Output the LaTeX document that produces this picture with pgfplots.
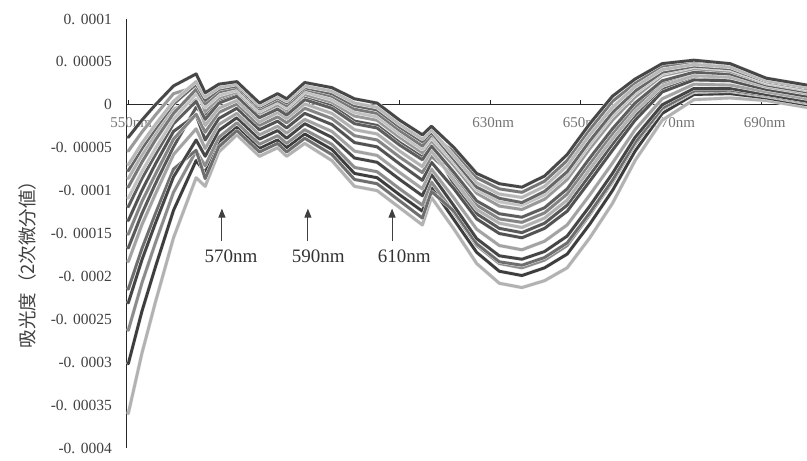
\documentclass[border=0pt]{standalone}
\usepackage{fontspec}
\setmainfont{Liberation Serif}
\newfontfamily\jp{Noto Sans CJK JP}
\usepackage{pgfplots}
\usepackage{pgfplotstable}
\pgfplotsset{compat=1.18}
\usetikzlibrary{arrows.meta}

% second-derivative absorbance, units of 1e-5
\pgfplotstableread{
nm   A     B     C     D     E     F     G     H     I     J     K     L     M     N     O     P     Q
550 -3.8  -7.0  -9.6  -5.4 -11.9  -8.6 -15.1 -13.5 -18.3 -23.1 -26.3 -30.2 -21.5 -36.0  -7.7 -10.9 -16.7
553 -1.8  -4.5  -6.7  -3.2  -8.6  -5.9 -11.3 -10.0 -14.0 -18.1 -20.8 -24.1 -16.8 -29.0  -5.1  -7.8 -12.7
556  0.0  -2.3  -4.1  -1.2  -5.8  -3.5  -8.1  -6.9 -10.4 -13.8 -16.1 -18.9 -12.7 -23.0  -2.8  -5.1  -9.2
560  2.2   0.4  -1.0   1.3  -2.2  -0.5  -4.0  -3.1  -5.8  -8.4 -10.2 -12.3  -7.5 -15.5   0.1  -1.7  -4.9
565  3.6   2.7   1.8   2.1   0.4   0.6  -1.1  -1.2  -2.8  -4.1  -5.4  -6.5  -5.3  -8.5   2.4   1.3  -0.3
567  1.4   0.9   0.1  -0.8  -1.7  -2.4  -3.2  -4.1  -5.1  -6.0  -7.1  -7.9  -8.6  -9.5   0.5  -0.3  -1.3
570  2.4   2.0   1.5   0.8   0.2  -0.4  -0.9  -1.6  -2.3  -3.0  -3.8  -4.3  -4.9  -5.5   1.8   1.1   0.4
574  2.7   2.4   2.0   1.5   1.0   0.5   0.1  -0.4  -1.0  -1.5  -2.1  -2.6  -3.0  -3.5   2.2   1.7   1.2
579  0.2  -0.1  -0.5  -1.0  -1.5  -2.0  -2.4  -2.9  -3.5  -4.0  -4.6  -5.1  -5.5  -6.0  -0.3  -0.8  -1.4
583  1.3   1.0   0.5   0.0  -0.5  -0.9  -1.4  -1.9  -2.5  -3.0  -3.6  -4.1  -4.5  -5.0   0.8   0.3  -0.3
585  0.7   0.4  -0.1  -0.6  -1.2  -1.6  -2.1  -2.7  -3.3  -3.9  -4.5  -5.0  -5.5  -6.0   0.2  -0.4  -1.0
589  2.6   2.2   1.8   1.2   0.6   0.1  -0.4  -1.0  -1.7  -2.2  -2.9  -3.4  -3.9  -4.5   2.0   1.5   0.8
595  2.0   1.6   1.0   0.3  -0.4  -1.0  -1.6  -2.3  -3.1  -3.8  -4.6  -5.2  -5.8  -6.5   1.3   0.6  -0.1
600  0.7   0.2  -0.5  -1.3  -2.2  -2.9  -3.6  -4.4  -5.4  -6.2  -7.3  -8.0  -8.7  -9.5  -0.1  -0.9  -1.9
605  0.2  -0.3  -1.0  -1.8  -2.7  -3.4  -4.1  -4.9  -5.9  -6.7  -7.8  -8.5  -9.2 -10.0  -0.6  -1.4  -2.4
610 -1.8  -2.3  -3.0  -3.8  -4.7  -5.4  -6.1  -6.9  -7.9  -8.7  -9.8 -10.5 -11.2 -12.0  -2.6  -3.4  -4.4
615 -3.5  -4.0  -4.8  -5.6  -6.4  -7.2  -7.9  -8.8  -9.8 -10.6 -11.7 -12.4 -13.2 -14.0  -4.3  -5.2  -6.1
617 -2.5  -2.9  -3.5  -4.2  -4.8  -5.4  -6.0  -6.7  -7.5  -8.1  -9.0  -9.6 -10.1 -10.8  -3.2  -3.8  -4.6
622 -5.0  -6.0  -5.5  -7.1  -7.9  -8.8  -8.3  -9.8 -10.9 -11.8 -12.6 -13.4 -12.4 -14.5  -6.4  -6.7  -9.3
627 -8.0  -9.1  -8.5 -10.3 -11.2 -12.2 -11.7 -13.3 -14.5 -15.6 -16.4 -17.2 -16.2 -18.5  -9.6  -9.9 -12.7
632 -9.2 -10.4  -9.8 -11.8 -12.7 -13.8 -13.3 -15.0 -16.4 -17.6 -18.5 -19.4 -18.3 -20.8 -10.9 -11.3 -14.4
637 -9.6 -10.8 -10.2 -12.2 -13.1 -14.3 -13.7 -15.5 -16.9 -18.0 -19.0 -19.9 -18.7 -21.3 -11.4 -11.7 -14.9
642 -8.3  -9.5  -8.9 -11.0 -12.0 -13.2 -12.6 -14.4 -15.9 -17.1 -18.1 -19.0 -17.8 -20.5 -10.1 -10.5 -13.8
647 -5.8  -7.1  -6.5  -8.7  -9.8 -11.1 -10.4 -12.4 -14.0 -15.3 -16.4 -17.4 -16.1 -19.0  -7.8  -8.2 -11.7
652 -2.2  -3.5  -2.9  -5.1  -6.2  -7.5  -6.9  -8.9 -10.5 -11.8 -12.8 -13.9 -12.6 -15.5  -4.2  -4.6  -8.2
657  1.0  -0.3   0.4  -1.8  -2.8  -4.0  -3.4  -5.3  -6.8  -8.0  -9.0 -10.0  -8.8 -11.5  -0.9  -1.3  -4.6
662  3.0   2.1   2.5   0.9   0.2  -0.8  -0.3  -1.8  -2.9  -3.8  -4.6  -5.4  -4.4  -6.5   1.6   1.3  -1.3
668  4.8   4.1   4.5   3.4   2.8   2.2   2.5   1.5   0.7   0.0  -0.5  -1.0  -0.4  -1.8   3.8   3.6   1.8
675  5.2   4.7   5.0   4.2   3.8   3.4   3.6   2.9   2.4   1.9   1.5   1.2   1.6   0.6   4.5   4.4   3.1
683  4.8   4.4   4.6   3.9   3.6   3.2   3.4   2.8   2.3   1.9   1.6   1.3   1.7   0.8   4.2   4.1   3.0
691  3.1   2.8   3.0   2.5   2.3   2.1   2.2   1.8   1.5   1.2   1.0   0.8   1.1   0.5   2.7   2.6   1.9
700  2.3   2.0   2.2   1.7   1.5   1.3   1.4   1.0   0.7   0.4   0.2   0.0   0.3  -0.3   1.9   1.8   1.1
}\spectra

\definecolor{gA}{gray}{0.28}
\definecolor{gB}{gray}{0.72}
\definecolor{gC}{gray}{0.47}
\definecolor{gD}{gray}{0.60}
\definecolor{gE}{gray}{0.37}
\definecolor{gF}{gray}{0.70}
\definecolor{gG}{gray}{0.52}
\definecolor{gH}{gray}{0.32}
\definecolor{gI}{gray}{0.64}
\definecolor{gJ}{gray}{0.27}
\definecolor{gK}{gray}{0.55}
\definecolor{gL}{gray}{0.24}
\definecolor{gM}{gray}{0.43}
\definecolor{gN}{gray}{0.70}
\definecolor{gO}{gray}{0.40}
\definecolor{gP}{gray}{0.76}
\definecolor{gQ}{gray}{0.35}

\newcommand{\dd}{.\hspace{0.35em}}

\begin{document}
\begin{tikzpicture}
\begin{axis}[
  set layers=standard,
  at={(0,0)}, anchor=south west,
  scale only axis, width=681pt, height=429pt,
  xmin=549.5, xmax=700, ymin=-40, ymax=10,
  axis x line=middle, axis y line=left,
  axis line style={-, black!85, line width=0.9pt},
  xtick={550,570,...,690},
  xticklabels={550nm,,,,630nm,650nm,670nm,690nm},
  x tick label style={font=\fontsize{15}{15}\selectfont, text=black!55, xshift=3pt, yshift=-9pt},
  major tick length=5pt, tick align=inside,
  xtick style={black!85, line width=0.9pt},
  ytick={-40,-35,...,10},
  yticklabels={-0\dd0004,-0\dd00035,-0\dd0003,-0\dd00025,-0\dd0002,-0\dd00015,-0\dd0001,-0\dd00005,0,0\dd00005,0\dd0001},
  y tick label style={font=\fontsize{15.5}{15.5}\selectfont, text=black!75, anchor=east, inner sep=0pt, xshift=-14pt},
  ytick style={draw=none},
  no markers,
  every axis plot/.append style={line width=2.9pt, line join=round, line cap=round,
    preaction={draw=white!92!black, line width=3.8pt}},
]
\addplot[color=gN] table[x=nm,y=N]{\spectra};
\addplot[color=gL] table[x=nm,y=L]{\spectra};
\addplot[color=gK] table[x=nm,y=K]{\spectra};
\addplot[color=gM] table[x=nm,y=M]{\spectra};
\addplot[color=gJ] table[x=nm,y=J]{\spectra};
\addplot[color=gI] table[x=nm,y=I]{\spectra};
\addplot[color=gQ] table[x=nm,y=Q]{\spectra};
\addplot[color=gH] table[x=nm,y=H]{\spectra};
\addplot[color=gG] table[x=nm,y=G]{\spectra};
\addplot[color=gF] table[x=nm,y=F]{\spectra};
\addplot[color=gE] table[x=nm,y=E]{\spectra};
\addplot[color=gD] table[x=nm,y=D]{\spectra};
\addplot[color=gP] table[x=nm,y=P]{\spectra};
\addplot[color=gC] table[x=nm,y=C]{\spectra};
\addplot[color=gO] table[x=nm,y=O]{\spectra};
\addplot[color=gB] table[x=nm,y=B]{\spectra};
\addplot[color=gA] table[x=nm,y=A]{\spectra};

% peak markers
\draw[black!75, line width=1pt, -{Triangle[width=7pt,length=9pt]}] (axis cs:570.7,-15.9) -- (axis cs:570.7,-12.1);
\draw[black!75, line width=1pt, -{Triangle[width=7pt,length=9pt]}] (axis cs:589.7,-15.9) -- (axis cs:589.7,-12.1);
\draw[black!75, line width=1pt, -{Triangle[width=7pt,length=9pt]}] (axis cs:608.3,-15.9) -- (axis cs:608.3,-12.1);
\node[font=\fontsize{19}{19}\selectfont, text=black!80] at (axis cs:572.7,-17.6) {570nm};
\node[font=\fontsize{19}{19}\selectfont, text=black!80] at (axis cs:592.0,-17.6) {590nm};
\node[font=\fontsize{19}{19}\selectfont, text=black!80] at (axis cs:611.0,-17.6) {610nm};
\end{axis}
\node[rotate=90, font=\jp\fontsize{18.5}{18.5}\selectfont, text=black!75] at (-99pt,188pt) {吸光度（2次微分値）};
\pgfresetboundingbox
\path (-126pt,-13pt) rectangle (681pt,448pt);
\end{tikzpicture}
\end{document}
